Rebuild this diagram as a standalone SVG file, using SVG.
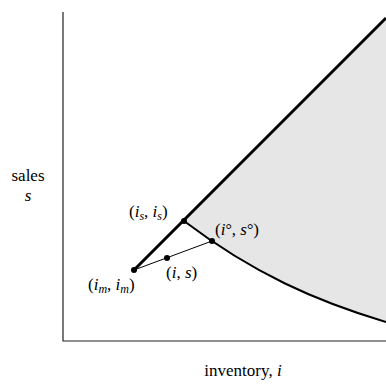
<svg xmlns="http://www.w3.org/2000/svg" width="386" height="390" viewBox="0 0 386 390">
<style>
text{font-family:"Liberation Serif","DejaVu Serif",serif;font-size:17px;fill:#000}
.it{font-style:italic}
.sub{font-size:12px;font-style:italic}
.deg{font-size:16px}
.axis{stroke:#222;stroke-width:1.2;fill:none}
.thick{stroke:#000;stroke-width:3;fill:none}
.curve{stroke:#000;stroke-width:2;fill:none}
.thin{stroke:#000;stroke-width:1;fill:none}
.dot{fill:#000}
</style>
<rect width="386" height="390" fill="#fff"/>
<g id="region">
<path d="M184,221 L386,18 L386,322 C316,301 254,274 184,221 Z" fill="#e6e6e6"/>
</g>
<g id="axes">
<path class="axis" d="M63,12 L63,341 L386,341"/>
<text x="28" y="181" text-anchor="middle">sales</text>
<text x="28" y="201" text-anchor="middle" class="it">s</text>
<text x="243" y="376" text-anchor="middle">inventory, <tspan class="it">i</tspan></text>
</g>
<g id="connectors">
<path class="thick" d="M134,270 L386,18"/>
<path class="curve" d="M184,221 C254,274 316,301 386,322"/>
<path class="thin" d="M134,270 L212,241"/>
</g>
<g id="node-im">
<circle class="dot" cx="134" cy="270" r="3"/>
<text x="88" y="290">(<tspan class="it">i</tspan><tspan class="sub" dy="3">m</tspan><tspan dy="-3">, </tspan><tspan class="it">i</tspan><tspan class="sub" dy="3">m</tspan><tspan dy="-3">)</tspan></text>
</g>
<g id="node-is">
<circle class="dot" cx="184" cy="221" r="3"/>
<text x="129" y="217">(<tspan class="it">i</tspan><tspan class="sub" dy="3">s</tspan><tspan dy="-3">, </tspan><tspan class="it">i</tspan><tspan class="sub" dy="3">s</tspan><tspan dy="-3">)</tspan></text>
</g>
<g id="node-i-s">
<circle class="dot" cx="167" cy="258" r="3"/>
<text x="166" y="278">(<tspan class="it">i</tspan>, <tspan class="it">s</tspan>)</text>
</g>
<g id="node-opt">
<circle class="dot" cx="212" cy="241" r="3"/>
<text x="215" y="235">(<tspan class="it">i</tspan><tspan class="deg">°</tspan>, <tspan class="it">s</tspan><tspan class="deg">°</tspan>)</text>
</g>
</svg>
